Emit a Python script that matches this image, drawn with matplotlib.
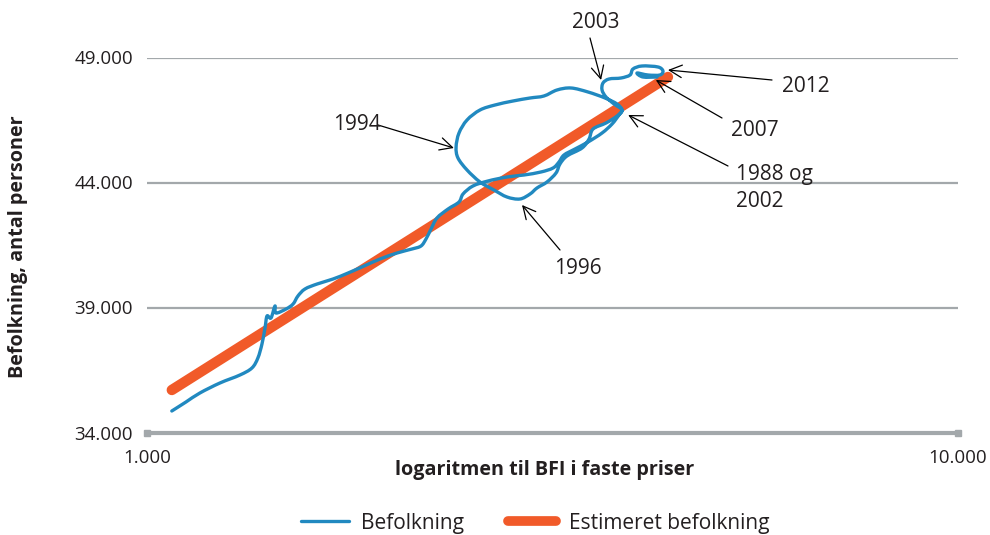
import matplotlib
matplotlib.use("Agg")
import numpy as np
import matplotlib.pyplot as plt
from matplotlib.lines import Line2D
from matplotlib.path import Path
from matplotlib.patches import PathPatch

# BFI (fixed prices) and population (time ordered path)
bfi = [1073, 1117, 1162, 1230, 1302, 1347, 1370, 1386, 1398, 1406, 1422, 1438, 1442,
       1484, 1514, 1535, 1566, 1621, 1696, 1770, 1852, 1938, 2034, 2122, 2177, 2208,
       2240, 2278, 2351, 2425, 2453, 2523, 2633, 2779, 2916, 3060, 3167, 3221, 3267,
       3371, 3498, 3640, 3745, 3819, 3852,
       3798, 3671, 3498, 3333, 3203, 3086, 2967, 2827, 2686, 2574, 2481, 2425, 2405,
       2418, 2481, 2574, 2678, 2779, 2883,
       2967, 3026, 3113, 3194, 3230, 3295, 3439, 3508, 3548, 3681, 3798, 3852,
       3766, 3681, 3640, 3650, 3713, 3841, 3941, 3974, 4077, 4267, 4327, 4290,
       4147, 4020, 4088, 4255]
befolkning = [34860, 35220, 35580, 35980, 36300, 36580, 36980, 37540, 38180, 38660, 38580, 39060, 38780,
              38940, 39140, 39460, 39740, 39940, 40140, 40380, 40660, 40940, 41180, 41340, 41460, 41740,
              42140, 42580, 42940, 43220, 43540, 43860, 44060, 44220, 44300, 44420, 44580, 44820, 45100,
              45340, 45620, 45980, 46340, 46700, 46900,
              47140, 47380, 47620, 47780, 47700, 47460, 47380, 47260, 47100, 46900, 46500, 45980, 45420,
              44980, 44500, 44020, 43700, 43420, 43340,
              43540, 43780, 44020, 44380, 44740, 45060, 45380, 45740, 46140, 46380, 46660, 46900,
              47140, 47420, 47700, 47980, 48140, 48180, 48300, 48540, 48660, 48620, 48460, 48300,
              48300, 48380, 48220, 48220]

est_bfi = [1073, 4389]
est_befolkning = [35700, 48220]

y_ticks = [34000, 39000, 44000, 49000]
y_ticklabels = ["34.000", "39.000", "44.000", "49.000"]
x_ticks = [1000, 10000]
x_ticklabels = ["1.000", "10.000"]

# annotations: label, tip (data)
ann_labels = ["2003", "2012", "2007", "1988 og\n2002", "1994", "1996"]
ann_tips = [(3630, 48100), (4389, 48500), (4240, 48100), (3920, 46700), (2390, 45380), (2900, 43100)]

BLUE = "#2189c0"
ORANGE = "#f15a29"
GRID = "#a3a8ab"
TXT = "#231f20"
FONT = ["Open Sans", "DejaVu Sans"]
plt.rcParams["font.family"] = FONT

W, H = 990, 535
fig = plt.figure(figsize=(W / 100, H / 100), dpi=100)
ax = fig.add_axes([147 / W, 1 - 432.5 / H, (958 - 147) / W, (432.5 - 57.5) / H])
ax.set_xscale("log")
ax.set_xlim(1000, 10000)
ax.set_ylim(34000, 49000)

for s in ax.spines.values():
    s.set_visible(False)
for yv in y_ticks[1:]:
    ax.axhline(yv, color=GRID, lw=1.6, zorder=1)
ax.plot([1000, 10000], [34000, 34000], color=GRID, lw=3, marker="s", ms=5,
        clip_on=False, zorder=1, solid_capstyle="butt")

ax.plot(est_bfi, est_befolkning, color=ORANGE, lw=7.5, solid_capstyle="round", zorder=2)

# smoothed line (Catmull-Rom -> cubic Bezier) through the data points, like a smoothed chart line
lx = np.log10(np.array(bfi, dtype=float))
yy = np.array(befolkning, dtype=float)
P = np.column_stack([lx, yy])
Pext = np.vstack([P[0], P, P[-1]])
verts = [P[0]]
codes = [Path.MOVETO]
for i in range(1, len(Pext) - 2):
    p0, p1, p2, p3 = Pext[i - 1], Pext[i], Pext[i + 1], Pext[i + 2]
    c1 = p1 + (p2 - p0) / 6.0
    c2 = p2 - (p3 - p1) / 6.0
    verts += [c1, c2, p2]
    codes += [Path.CURVE4] * 3
verts = np.array(verts)
verts[:, 0] = 10 ** verts[:, 0]
patch = PathPatch(Path(verts, codes), facecolor="none", edgecolor=BLUE, lw=2.4,
                  joinstyle="round", capstyle="round", zorder=3, clip_on=False)
ax.add_patch(patch)

ax.set_yticks(y_ticks)
ax.set_yticklabels(y_ticklabels)
ax.set_xticks(x_ticks)
ax.set_xticklabels(x_ticklabels)
ax.xaxis.set_minor_locator(matplotlib.ticker.NullLocator())
ax.tick_params(axis="y", length=0, pad=10, labelsize=13.5, labelcolor=TXT)
ax.tick_params(axis="x", length=0, pad=12, labelsize=13.5, labelcolor=TXT)

fig.text(18 / W, 1 - 247 / H, "Befolkning, antal personer", rotation=90, ha="center",
         va="center", fontsize=14.2, fontweight="bold", color=TXT)
fig.text(545 / W, 1 - 470 / H, "logaritmen til BFI i faste priser", ha="center",
         va="center", fontsize=14.2, fontweight="bold", color=TXT)

# annotation text positions (figure pixels) and arrow tails (figure pixels)
text_pos = [(596, 22), (806, 86), (755, 130), (736, 188), (357, 125), (578, 268)]
text_ha = ["center", "center", "center", "left", "center", "center"]
tails = [(590, 38), (772, 80), (722, 118), (728, 166), (378, 125), (560, 250)]
for lab, tip, tp, ha, tl in zip(ann_labels, ann_tips, text_pos, text_ha, tails):
    fig.text(tp[0] / W, 1 - tp[1] / H, lab, ha=ha, va="center", fontsize=15,
             color=TXT, linespacing=1.35)
    ax.annotate("", xy=tip, xycoords="data", xytext=(tl[0], H - tl[1]),
                textcoords="figure pixels",
                arrowprops=dict(arrowstyle="->,head_length=0.9,head_width=0.45",
                                lw=0.9, color="black", shrinkA=0, shrinkB=0),
                annotation_clip=False)

handles = [Line2D([], [], color=BLUE, lw=2.4, solid_capstyle="round"),
           Line2D([], [], color=ORANGE, lw=7, solid_capstyle="round")]
fig.legend(handles, ["Befolkning", "Estimeret befolkning"], loc="center",
           bbox_to_anchor=(535 / W, 1 - 523 / H), ncol=2, frameon=False,
           fontsize=15, handlelength=2.3, columnspacing=2.1, handletextpad=0.6,
           labelcolor=TXT)

fig.savefig("out.png", dpi=100)
